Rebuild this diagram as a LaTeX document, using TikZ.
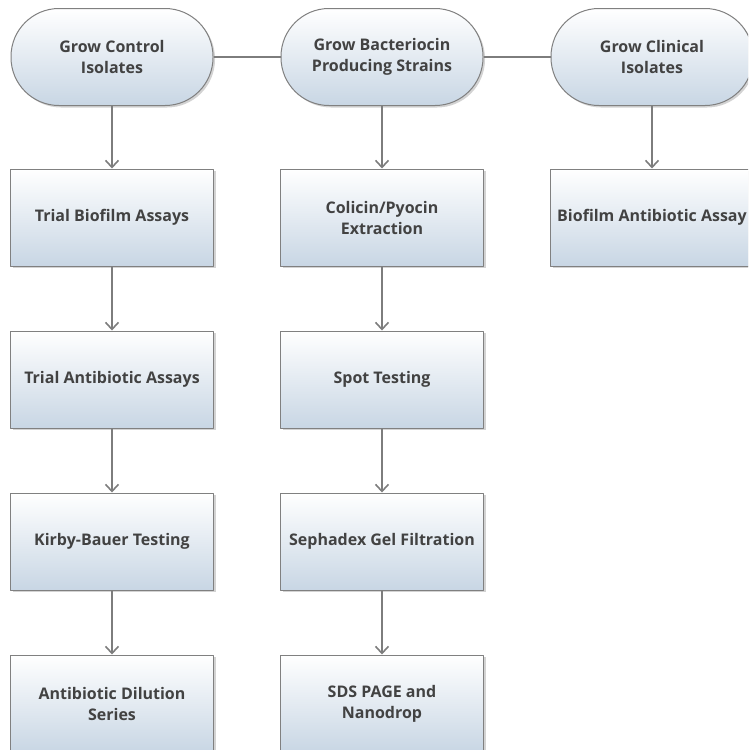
\documentclass[tikz,border=0pt]{standalone}
\usepackage{fontspec}
\setmainfont{Open Sans}
\usetikzlibrary{arrows.meta,shadows}

\definecolor{boxline}{RGB}{128,128,128}
\definecolor{linegray}{RGB}{125,125,125}
\definecolor{txtgray}{RGB}{66,66,66}
\definecolor{fillblue}{RGB}{200,214,228}

\begin{document}
\begin{tikzpicture}[
        x = 1pt, y = -1pt,
        line join=round,
        font = \bfseries\fontsize{16}{21}\selectfont,
        basebox/.style = {draw=boxline, line width=1pt, align=center, text=txtgray,
            top color=white, bottom color=fillblue,
            drop shadow={opacity=0.35, shadow xshift=2pt, shadow yshift=-2pt}},
        startnode/.style = {basebox, rounded corners=48pt, minimum width=202pt, minimum height=97pt},
        stepnode/.style = {basebox, minimum width=203pt, minimum height=97pt},
        link/.style = {draw=linegray, line width=1.2pt},
        flow/.style = {link, -{Straight Barb[length=7pt,width=13pt,line width=1.6pt]}}
    ]

    \useasboundingbox (0,0) rectangle (748,750);
    \clip (0,0) rectangle (748,750);

    % start nodes
    \node[startnode] (control)  at (112,57) {Grow Control\\Isolates};
    \node[startnode] (bacter)   at (382,57) {Grow Bacteriocin\\Producing Strains};
    \node[startnode] (clinical) at (652,57) {Grow Clinical\\Isolates};

    % left column
    \node[stepnode] (biofilm)  at (112,217.5) {Trial Biofilm Assays};
    \node[stepnode] (antibio)  at (112,379.5) {Trial Antibiotic Assays};
    \node[stepnode] (kirby)    at (112,541.5) {Kirby-Bauer Testing};
    \node[stepnode] (dilution) at (112,703.5) {Antibiotic Dilution\\Series};

    % middle column
    \node[stepnode] (extract)  at (382,217.5) {Colicin/Pyocin\\Extraction};
    \node[stepnode] (spot)     at (382,379.5) {Spot Testing};
    \node[stepnode] (sephadex) at (382,541.5) {Sephadex Gel Filtration};
    \node[stepnode] (sds)      at (382,703.5) {SDS PAGE and\\Nanodrop};

    % right column
    \node[stepnode] (bioanti)  at (652,217.5) {Biofilm Antibiotic Assay};

    \draw[link] (control) -- (bacter);
    \draw[link] (bacter) -- (clinical);

    \draw[flow] (control) -- (biofilm);
    \draw[flow] (biofilm) -- (antibio);
    \draw[flow] (antibio) -- (kirby);
    \draw[flow] (kirby) -- (dilution);

    \draw[flow] (bacter) -- (extract);
    \draw[flow] (extract) -- (spot);
    \draw[flow] (spot) -- (sephadex);
    \draw[flow] (sephadex) -- (sds);

    \draw[flow] (clinical) -- (bioanti);

\end{tikzpicture}
\end{document}
